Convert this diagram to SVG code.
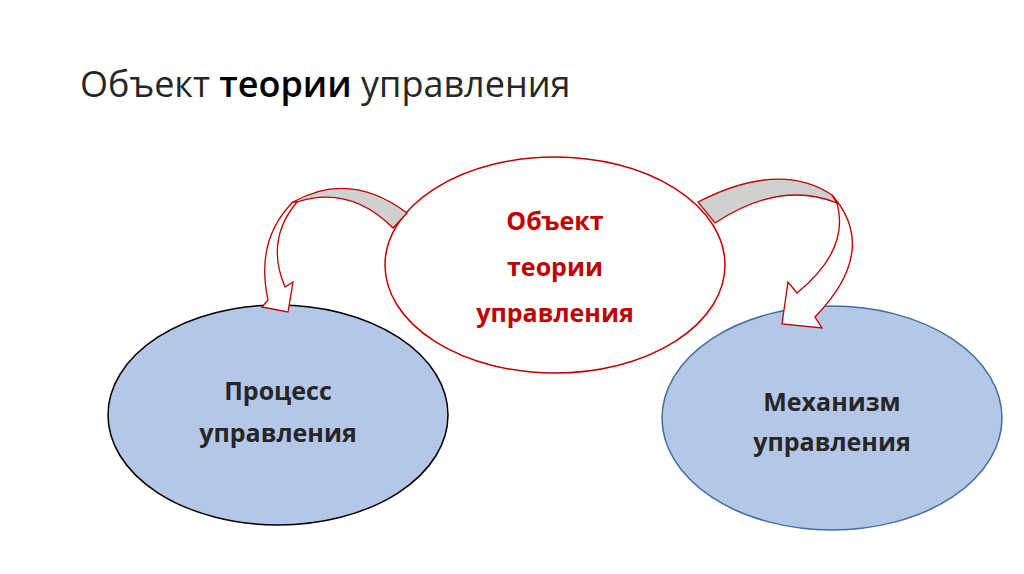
<svg xmlns="http://www.w3.org/2000/svg" width="1024" height="574" viewBox="0 0 1024 574">
<style>
.t{font-family:"Open Sans","Liberation Sans",sans-serif}
.b{font-weight:bold;font-size:25px;text-anchor:middle}
.arr{stroke:#c00000;stroke-width:1.3;stroke-linejoin:miter}
</style>
<rect width="1024" height="574" fill="#fff"/>
<text class="t" x="80" y="97" font-size="36" fill="#262626">Объект <tspan font-weight="600" fill="#000">теории</tspan> управления</text>
<g id="node-left">
<ellipse cx="278" cy="415" rx="170" ry="110" fill="#b4c7e7" stroke="#000" stroke-width="1.5"/>
<text class="t b" x="278" y="400" fill="#262626">Процесс</text>
<text class="t b" x="278" y="442" fill="#262626">управления</text>
</g>
<g id="node-right">
<ellipse cx="832" cy="418" rx="170" ry="112" fill="#b4c7e7" stroke="#41719c" stroke-width="1.5"/>
<text class="t b" x="832" y="411" fill="#262626">Механизм</text>
<text class="t b" x="832" y="451" fill="#262626">управления</text>
</g>
<g id="node-center">
<ellipse cx="555" cy="265" rx="170" ry="108" fill="#fff" stroke="#c00000" stroke-width="1.5"/>
<text class="t b" x="555" y="230" fill="#c00000">Объект</text>
<text class="t b" x="555" y="276" fill="#c00000">теории</text>
<text class="t b" x="555" y="322" fill="#c00000">управления</text>
</g>
<g id="connectors">
<path class="arr" fill="#d0d0d0" d="M407,213 Q350,170 293,202 L297,202 Q350,185 393,228 Z"/>
<path class="arr" fill="#fff" d="M293,202 Q255,240 268,300 L262,307 L288,312 L293,282 L285,287 Q265,240 297,202 Z"/>
<path class="arr" fill="#d0d0d0" d="M698,202 Q780,160 832,195 L837,203 Q780,180 715,223 Z"/>
<path class="arr" fill="#fff" d="M832,195 Q880,250 815,317 L822,328 L782,324 L788,282 L797,293 Q850,250 837,203 Z"/>
</g>
</svg>
